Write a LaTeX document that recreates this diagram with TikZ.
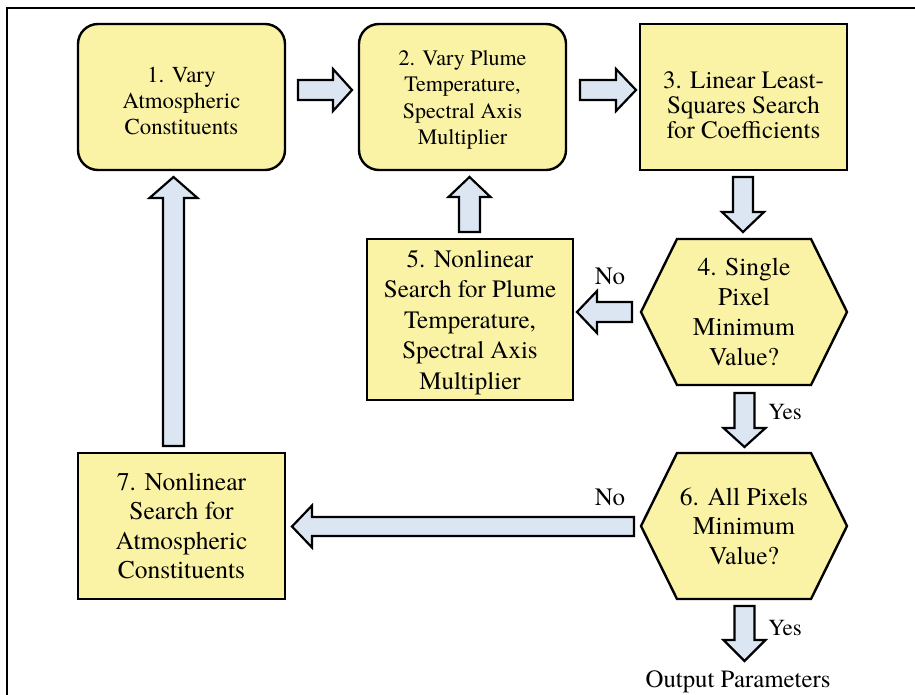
\documentclass[tikz,border=0pt]{standalone}
\usepackage{fontspec}
\setmainfont{texgyretermes}[Extension=.otf, UprightFont=*-regular, BoldFont=*-bold, ItalicFont=*-italic, BoldItalicFont=*-bolditalic]
\usetikzlibrary{calc,backgrounds}
\definecolor{boxfill}{RGB}{250,242,165}
\definecolor{arrfill}{RGB}{220,230,242}
% tail point, rotation, length, shaft half width, head half width, head length
\newcommand\blockarr[6]{%
  \draw[arrstyle, shift={#1}, rotate=#2]
    (0,-#4) -- (#3-#6,-#4) -- (#3-#6,-#5) -- (#3,0) -- (#3-#6,#5) -- (#3-#6,#4) -- (0,#4) -- cycle;}
\begin{document}
\begin{tikzpicture}[x=1pt,y=-1pt,
  every node/.style={align=center, inner sep=0pt, outer sep=0pt},
  txt/.style 2 args={font=\rmfamily\fontsize{#1}{#2}\selectfont},
  stepbox/.style={draw, line width=2.4pt, fill=boxfill, minimum width=207pt, minimum height=146pt},
  roundbox/.style={stepbox, rounded corners=20pt},
  hexbox/.style={minimum width=206pt, minimum height=146pt},
  hexline/.style={draw, line width=2.4pt, fill=boxfill, line join=miter},
  arrstyle/.style={draw, line width=2.2pt, fill=arrfill, line join=miter}
]
\useasboundingbox (0,0) rectangle (915,694);
\draw[line width=2.2pt] (7,700) -- (7,8) -- (920,8);

% boxes
\node[roundbox, label={[txt={22.8}{26}, yshift=-3.5pt]center:{1. Vary\\Atmospheric\\Constituents}}] (b1) at (181.5,97) {};
\node[roundbox, label={[txt={22}{26.3}, yshift=-3pt]center:{2. Vary Plume\\Temperature,\\Spectral Axis\\Multiplier}}] (b2) at (462.5,97) {};
\node[stepbox, label={[txt={25}{25}, yshift=-8pt]center:{3. Linear Least-\\Squares Search\\for Coefficients}}] (b3) at (743.5,97) {};
\node[hexbox, txt={25.5}{30}] (h4) at (744,312) {4. Single\\Pixel\\Minimum\\Value?};
\node[stepbox, minimum width=206pt, minimum height=161pt, label={[txt={25}{30.5}, yshift=-3pt]center:{5. Nonlinear\\Search for Plume\\Temperature,\\Spectral Axis\\Multiplier}}] (b5) at (470,319.5) {};
\node[hexbox, txt={25.5}{29.5}] (h6) at (744,526) {6. All Pixels\\Minimum\\Value?};
\node[stepbox, txt={25.5}{29.5}] (b7) at (181.5,526) {7. Nonlinear\\Search for\\Atmospheric\\Constituents};

\begin{scope}[on background layer]
\foreach \h in {h4,h6}
  \draw[hexline] (\h.west) -- ($(\h.north west)+(36,0)$) -- ($(\h.north east)+(-36,0)$)
    -- (\h.east) -- ($(\h.south east)+(-36,0)$) -- ($(\h.south west)+(36,0)$) -- cycle;
\end{scope}

% block arrows
\blockarr{($(b1.east)+(13,-7)$)}{0}{54}{10}{21}{19}
\blockarr{($(b2.east)+(14,-7)$)}{0}{56}{10}{21}{20}
\blockarr{($(b3.south)+(-0.5,7)$)}{-90}{55}{10}{21}{20}
\blockarr{($(h4.west)+(-9,0)$)}{180}{55}{10}{21}{20}
\blockarr{($(b5.north)+(-0.5,-7)$)}{90}{55}{10.5}{21}{20}
\blockarr{($(h4.south)+(0.5,8)$)}{-90}{54}{10}{21}{19}
\blockarr{($(h6.west)+(-7,0.5)$)}{180}{342}{9.5}{21}{20}
\blockarr{($(h6.south)+(0.5,7)$)}{-90}{55}{10}{21}{21}
\blockarr{($(b7.north)+(-8,-7)$)}{90}{269}{10.5}{24}{21}

% labels
\node[txt={24.8}{28}] (out) at ($(h6.south)+(-6,82.5)$) {Output Parameters};
\node[txt={25}{28}] (no1) at (610,276) {No};
\node[txt={23}{28}] (yes1) at (785,412) {Yes};
\node[txt={25}{28}] (no2) at (610,497) {No};
\node[txt={23}{28}] (yes2) at (785,628) {Yes};
\end{tikzpicture}
\end{document}
